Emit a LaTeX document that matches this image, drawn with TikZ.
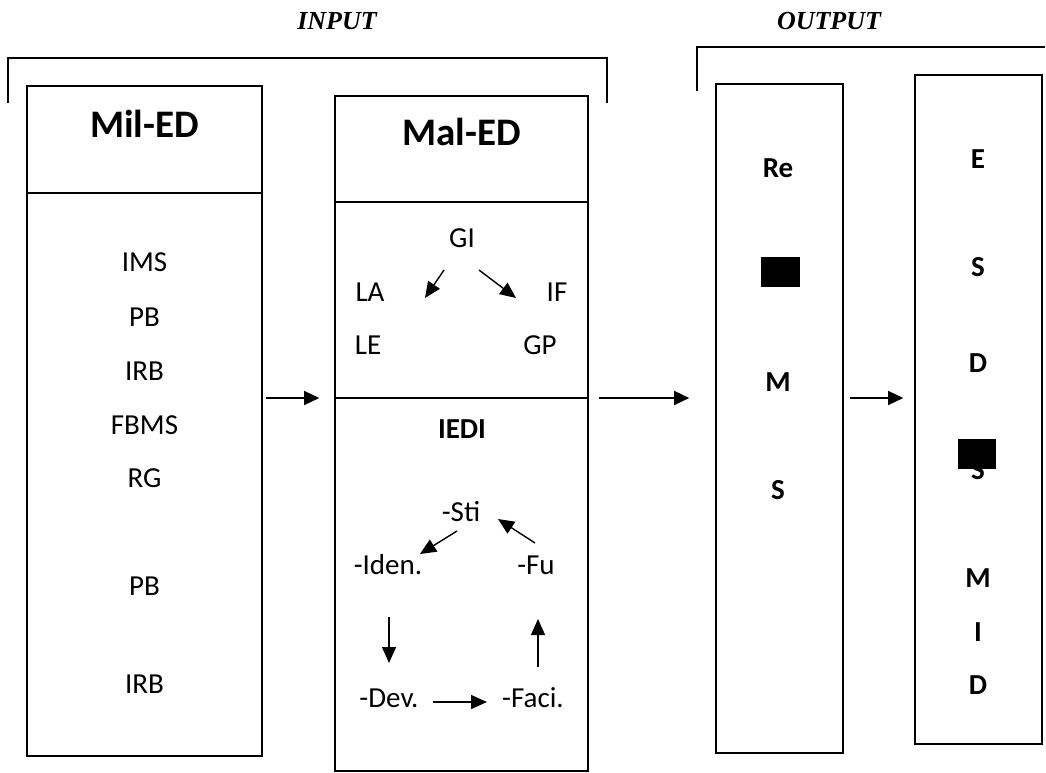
\documentclass[tikz,border=0pt]{standalone}
\usepackage{fontspec}
\setmainfont{Carlito}
\newfontfamily\headfont{Liberation Serif}
\usetikzlibrary{arrows.meta,positioning}

\begin{document}
\begin{tikzpicture}[x=1pt,y=-1pt,
  box/.style={draw,line width=1.6pt,inner sep=0pt},
  lbl/.style={inner sep=0pt,font=\fontsize{29}{31}\selectfont},
  blbl/.style={inner sep=0pt,font=\fontsize{29}{31}\selectfont\bfseries},
  ttl/.style={inner sep=0pt,font=\fontsize{39}{42}\selectfont\bfseries},
  hd/.style={inner sep=0pt,font=\headfont\fontsize{26}{28}\selectfont\bfseries\itshape},
  arr/.style={-{Triangle[length=15pt,width=14pt]},line width=1.4pt},
  sarr/.style={-{Triangle[length=16pt,width=14pt]},line width=1.4pt}]
  \useasboundingbox (0,0) rectangle (1046,772);

  % headings and brackets
  \node[hd] (input) at (337,21) {INPUT};
  \node[hd] (output) at (829,21) {OUTPUT};
  \draw[line width=1.4pt] (8,103) |- (607,58) -- (607,103);
  \draw[line width=1.4pt] (697,91) |- (1045,47);

  % the four columns
  \node[box,minimum width=235pt,minimum height=670pt] (mil) at (144.5,421) {};
  \node[box,minimum width=253pt,minimum height=675pt] (mal) at (461.5,433.5) {};
  \node[box,minimum width=127pt,minimum height=669pt] (res) at (779.5,418.5) {};
  \node[box,minimum width=127pt,minimum height=669pt] (esd) at (978.5,409.5) {};
  \draw[line width=1.6pt] (mil.west |- 0,193) -- (mil.east |- 0,193);
  \draw[line width=1.6pt] (mal.west |- 0,202) -- (mal.east |- 0,202);
  \coordinate (div) at (461.5,398);
  \draw[line width=1.6pt] (mal.west |- div) -- (mal.east |- div);

  % Mil-ED
  \node[ttl] (miltitle) at (144.5,123.5) {Mil-ED};
  \foreach \t/\y [count=\i] in {IMS/262,PB/317,IRB/371,FBMS/425,RG/478,PB/586,IRB/684}
    \node[lbl] (mil\i) at (144.5,\y) {\t};

  % Mal-ED, upper part
  \node[ttl] (maltitle) at (461.5,132) {Mal-ED};
  \node[lbl] (gi) at (462,238) {GI};
  \node[lbl] (la) at (370,292) {LA};
  \node[lbl] (if) at (557,292) {IF};
  \node[lbl] (le) at (368,345) {LE};
  \node[lbl] (gp) at (540,345) {GP};
  \coordinate (gil) at (444,270);
  \coordinate (lat) at (425,298);
  \coordinate (gir) at (479,270);
  \coordinate (ift) at (516,298);
  \draw[sarr] (gil) -- (lat);
  \draw[sarr] (gir) -- (ift);

  % Mal-ED, lower part
  \node[blbl] (iedi) at (462,429) {IEDI};
  \node[lbl] (sti) at (461,512) {-Sti};
  \node[lbl] (iden) at (388,565) {-Iden.};
  \node[lbl] (fu) at (536,565) {-Fu};
  \node[lbl] (dev) at (389,698) {-Dev.};
  \node[lbl] (faci) at (533,698) {-Faci.};
  \coordinate (c1) at (457,531);
  \coordinate (c2) at (420,554);
  \coordinate (c3) at (389,617);
  \coordinate (c4) at (389,663);
  \coordinate (c5) at (433,702);
  \coordinate (c6) at (487,702);
  \coordinate (c7) at (538,667);
  \coordinate (c8) at (538,619);
  \coordinate (c9) at (535,543);
  \coordinate (c10) at (498,519);
  \draw[sarr] (c1) -- (c2);
  \draw[sarr] (c3) -- (c4);
  \draw[sarr] (c5) -- (c6);
  \draw[sarr] (c7) -- (c8);
  \draw[sarr] (c9) -- (c10);

  % output columns
  \node[blbl] (re) at (778,168) {Re};
  \node[blbl] (rem) at (778,382) {M};
  \node[blbl] (res2) at (778,490) {S};
  \foreach \t/\y [count=\i] in {E/159,S/267,D/363,S/470,M/578,I/632,D/685}
    \node[blbl] (esd\i) at (978,\y) {\t};
  \fill (761,257) rectangle (800,287);
  \fill (958,439) rectangle (996,469);

  % flow between the columns
  \draw[arr] ([xshift=3pt]mil.east |- div) -- ([xshift=-15pt]mal.west |- div);
  \draw[arr] ([xshift=10pt]mal.east |- div) -- ([xshift=-26pt]res.west |- div);
  \draw[arr] ([xshift=6pt]res.east |- div) -- ([xshift=-11pt]esd.west |- div);
\end{tikzpicture}
\end{document}
